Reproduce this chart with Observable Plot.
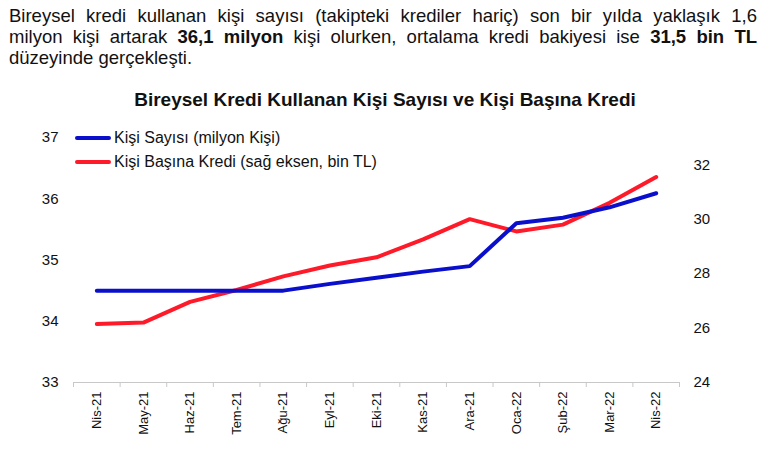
<!DOCTYPE html>
<html><head><meta charset="utf-8">
<script src="https://cdn.jsdelivr.net/npm/d3@7"></script>
<script src="https://cdn.jsdelivr.net/npm/@observablehq/plot@0.6"></script>
<style>
body{margin:0;background:#fff;font-family:"Liberation Sans",Arial,sans-serif;color:#111;}
#wrap{position:relative;width:770px;height:450px;overflow:hidden;}
#para{position:absolute;left:9px;top:5px;width:748px;font-size:18.5px;line-height:21px;}
#para div.j{text-align:justify;text-align-last:justify;}
#title{position:absolute;left:0;width:770px;top:89px;text-align:center;font-weight:bold;font-size:19px;}
#chart{position:absolute;left:0;top:115px;}
#legend{position:absolute;left:75px;top:126px;font-size:16px;}
#legend .row{display:flex;align-items:center;height:24px;}
#legend .sw{width:36px;height:4px;margin-right:3px;border-radius:2px;}
</style></head>
<body><div id="wrap">
<div id="para">
<div class="j">Bireysel kredi kullanan kişi sayısı (takipteki krediler hariç) son bir yılda yaklaşık 1,6</div>
<div class="j">milyon kişi artarak <b>36,1 milyon</b> kişi olurken, ortalama kredi bakiyesi ise <b>31,5 bin TL</b></div>
<div>düzeyinde gerçekleşti.</div>
</div>
<div id="title">Bireysel Kredi Kullanan Kişi Sayısı ve Kişi Başına Kredi</div>
<div id="chart"></div>
<div id="legend"></div>
</div>
<script>
const months = ["Nis-21","May-21","Haz-21","Tem-21","Ağu-21","Eyl-21","Eki-21","Kas-21","Ara-21","Oca-22","Şub-22","Mar-22","Nis-22"];
const kisiSayisi = [34.5,34.5,34.5,34.5,34.5,34.61,34.71,34.81,34.9,35.6,35.69,35.86,36.09];
const kisiBasinaKredi = [26.15,26.2,26.96,27.4,27.9,28.3,28.6,29.26,30.0,29.55,29.8,30.6,31.55];
const leftTicks = [33,34,35,36,37];
const rightTicks = [24,26,28,30,32];
const seriesNames = ["Kişi Sayısı (milyon Kişi)","Kişi Başına Kredi (sağ eksen, bin TL)"];
const colors = ["#0a0fcc","#ff1a2a"];

const L0=33, L1=37, R0=24, R1=33;
const toLeft = v => L0 + (v-R0)*(L1-L0)/(R1-R0);
const fromLeft = v => R0 + (v-L0)*(R1-R0)/(L1-L0);

const blue = months.map((m,i)=>({i, v:kisiSayisi[i]}));
const red = months.map((m,i)=>({i, v:toLeft(kisiBasinaKredi[i])}));
const idx = months.map((m,i)=>i);
const bounds = d3.range(months.length+1).map(i=>i-0.5);

const plot = Plot.plot({
  width:770, height:335,
  marginLeft:73, marginRight:91, marginTop:22, marginBottom:68,
  style:{fontFamily:"Liberation Sans, Arial, sans-serif", fontSize:"15px", color:"#111", background:"transparent"},
  x:{type:"linear", domain:[-0.5, months.length-0.5]},
  y:{domain:[L0,L1]},
  marks:[
    Plot.axisY(leftTicks,{anchor:"left", tickSize:0, tickPadding:15, label:null, fontSize:15, tickFormat:d=>String(d)}),
    Plot.axisY(rightTicks.map(toLeft),{anchor:"right", tickSize:0, tickPadding:14, label:null, fontSize:15, tickFormat:d=>String(Math.round(fromLeft(d)))}),
    Plot.ruleY([L0],{stroke:"#c8c8c8", strokeWidth:1}),
    Plot.axisX(bounds,{anchor:"bottom", tickSize:5, stroke:"#c8c8c8", tickFormat:()=>"", label:null}),
    Plot.axisX(idx,{anchor:"bottom", tickSize:0, tickPadding:9, tickRotate:-90, fontSize:13, tickFormat:i=>months[i], label:null}),
    Plot.line(red,{x:"i", y:"v", stroke:colors[1], strokeWidth:4}),
    Plot.line(blue,{x:"i", y:"v", stroke:colors[0], strokeWidth:4})
  ]
});
document.getElementById("chart").appendChild(plot);

const lg = document.getElementById("legend");
seriesNames.forEach((n,k)=>{
  const r=document.createElement("div"); r.className="row";
  const s=document.createElement("div"); s.className="sw"; s.style.background=colors[k];
  const t=document.createElement("span"); t.textContent=n;
  r.appendChild(s); r.appendChild(t); lg.appendChild(r);
});
</script>
</body></html>
